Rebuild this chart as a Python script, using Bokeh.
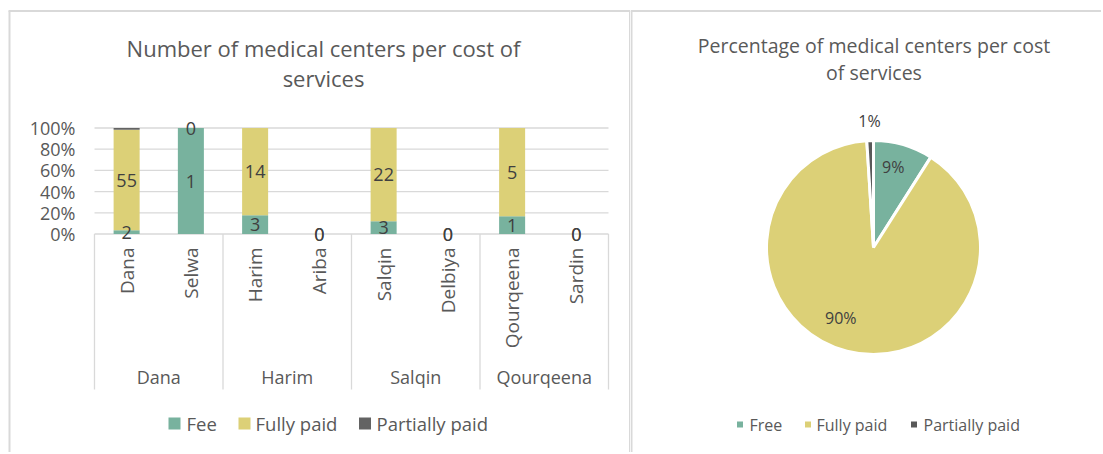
import numpy as np
from bokeh.plotting import figure
from bokeh.layouts import row
from bokeh.models import Range1d, ColumnDataSource
from bokeh.core.properties import value
from bokeh.embed import file_html
from bokeh.resources import INLINE

# ---------------- data ----------------
groups = ["Dana", "Harim", "Salqin", "Qourqeena"]
places = ["Dana", "Selwa", "Harim", "Ariba", "Salqin", "Delbiya", "Qourqeena", "Sardin"]
place_group = ["Dana", "Dana", "Harim", "Harim", "Salqin", "Salqin", "Qourqeena", "Qourqeena"]
series = ["Fee", "Fully paid", "Partially paid"]
fee = [2, 1, 3, 0, 3, 0, 1, 0]
fully_paid = [55, 0, 14, 0, 22, 0, 5, 0]
partially_paid = [1, 0, 0, 0, 0, 0, 0, 0]
y_ticks = [0.0, 0.2, 0.4, 0.6, 0.8, 1.0]
y_tick_labels = ["0%", "20%", "40%", "60%", "80%", "100%"]
bar_title = ["Number of medical centers per cost of", "services"]

pie_labels = ["Free", "Fully paid", "Partially paid"]
pie_values = [9, 90, 1]
pie_title = ["Percentage of medical centers per cost", "of services"]

# ---------------- styles ----------------
bar_colors = ["#78B29E", "#DCD077", "#636363"]
pie_colors = ["#78B29E", "#DCD077", "#595959"]
FONT = value("Open Sans")
GREY_TXT = "#595959"
DARK_TXT = "#404040"
LINE = "#D9D9D9"

# ---------------- left panel ----------------
W1, H1 = 630, 452
PX0, PY0 = 0, 0            # page offset of the figure
SLOT = 64.25               # px per category
X0PIX = 94                 # page x of category 0 edge
Y0PIX, YUNIT = 233.5, 106  # page y of 0%, px per 100%

def X(px):
    return (px - X0PIX) / SLOT

def Y(py):
    return (Y0PIX - py) / YUNIT

p1 = figure(width=W1, height=H1,
            x_range=Range1d(X(PX0), X(PX0 + W1)),
            y_range=Range1d(Y(PY0 + H1), Y(PY0)),
            output_backend="svg", toolbar_location=None,
            x_axis_location=None, y_axis_location=None,
            min_border=0, outline_line_color=None,
            background_fill_color="white", border_fill_color="white")
p1.grid.grid_line_color = None

n = len(places)
centers = [i + 0.5 for i in range(n)]
totals = [a + b + c for a, b, c in zip(fee, fully_paid, partially_paid)]
def frac(v):
    return [x / t if t > 0 else 0.0 for x, t in zip(v, totals)]
f_fee, f_full, f_part = frac(fee), frac(fully_paid), frac(partially_paid)

# panel border
p1.segment(x0=[X(9), X(8), X(629.5)], y0=[Y(PY0 + H1 + 5), Y(10.5), Y(PY0 + H1 + 5)],
           x1=[X(9), X(630), X(629.5)], y1=[Y(10.5), Y(10.5), Y(10.5)],
           line_color=LINE, line_width=2)

# gridlines
p1.segment(x0=[0] * len(y_ticks), x1=[n] * len(y_ticks), y0=y_ticks, y1=y_ticks,
           line_color=LINE, line_width=1.3)

# group separators
bounds = [0] + [i for i in range(1, n) if place_group[i] != place_group[i - 1]] + [n]
p1.segment(x0=bounds, x1=bounds, y0=[0] * len(bounds), y1=[Y(389)] * len(bounds),
           line_color=LINE, line_width=1.3)

# stacked 100% bars
src = ColumnDataSource(dict(x=centers, fee=f_fee, full=f_full, part=f_part))
p1.vbar_stack(["fee", "full", "part"], x="x", width=0.405, color=bar_colors,
              line_color=None, source=src)

# data labels (Fee and Fully paid)
lab_x, lab_y, lab_t = [], [], []
for i in range(n):
    lab_x.append(centers[i]); lab_y.append(f_fee[i] / 2); lab_t.append(str(fee[i]))
    lab_x.append(centers[i]); lab_y.append(f_fee[i] + f_full[i] / 2); lab_t.append(str(fully_paid[i]))
p1.text(x=lab_x, y=lab_y, text=lab_t, text_font=FONT, text_font_size="18px",
        text_color=DARK_TXT, text_align="center", text_baseline="middle")

# y tick labels
p1.text(x=[X(75)] * len(y_ticks), y=y_ticks, text=y_tick_labels, text_font=FONT,
        text_font_size="18px", text_color=GREY_TXT, text_align="right",
        text_baseline="middle")

# category labels (rotated)
p1.text(x=centers, y=[Y(247)] * n, text=places, angle=np.pi / 2, text_font=FONT,
        text_font_size="19px", text_color=GREY_TXT, text_align="right",
        text_baseline="middle")

# group labels
g_x = [(bounds[k] + bounds[k + 1]) / 2 for k in range(len(groups))]
p1.text(x=g_x, y=[Y(376)] * len(groups), text=groups, text_font=FONT,
        text_font_size="18px", text_color=GREY_TXT, text_align="center",
        text_baseline="middle")

# title
p1.text(x=[X(323)] * 2, y=[Y(47), Y(77)], text=bar_title, text_font=FONT,
        text_font_size="22px", text_color=GREY_TXT, text_align="center",
        text_baseline="middle")

# legend
leg_sq = [X(174), X(244), X(364.5)]
leg_tx = [X(186), X(255), X(376)]
p1.scatter(x=leg_sq, y=[Y(423)] * 3, marker="square", size=12, color=bar_colors,
           line_color=None)
p1.text(x=leg_tx, y=[Y(423)] * 3, text=series, text_font=FONT, text_font_size="18.5px",
        text_color=GREY_TXT, text_align="left", text_baseline="middle")

# ---------------- right panel ----------------
W2, H2 = 471, 452
QX0 = 630

def RX(px):
    return px - QX0

def RY(py):
    return (PY0 + H2) - py

p2 = figure(width=W2, height=H2, x_range=Range1d(0, W2), y_range=Range1d(0, H2),
            output_backend="svg", toolbar_location=None,
            x_axis_location=None, y_axis_location=None,
            min_border=0, outline_line_color=None,
            background_fill_color="white", border_fill_color="white")
p2.grid.grid_line_color = None

p2.segment(x0=[RX(631), 0], y0=[-5, RY(10.5)], x1=[RX(631), W2], y1=[RY(10.5), RY(10.5)],
           line_color=LINE, line_width=2)

tot = float(sum(pie_values))
cum = np.concatenate([[0], np.cumsum(pie_values)]) / tot
starts = [np.pi / 2 - cum[i] * 2 * np.pi for i in range(len(pie_values))]
ends = [np.pi / 2 - cum[i + 1] * 2 * np.pi for i in range(len(pie_values))]
cx, cy, R = RX(873), RY(247), 107
p2.wedge(x=cx, y=cy, radius=R, start_angle=starts, end_angle=ends, direction="clock",
         fill_color=pie_colors, line_color="white", line_width=3)

mids = [np.pi / 2 - (cum[i] + cum[i + 1]) / 2 * 2 * np.pi for i in range(len(pie_values))]
rfac = [0.76, 0.74, 1.18]
lab_dx = [-3, -13, 0]     # label nudges in px (Excel best-fit placement)
lab_dy = [2, 6, 0]
px_l = [cx + R * rf * np.cos(m) + dx for rf, m, dx in zip(rfac, mids, lab_dx)]
py_l = [cy + R * rf * np.sin(m) + dy for rf, m, dy in zip(rfac, mids, lab_dy)]
p2.text(x=px_l, y=py_l, text=[f"{v}%" for v in pie_values], text_font=FONT,
        text_font_size="16px", text_color=DARK_TXT, text_align="center",
        text_baseline="middle")

p2.text(x=[RX(873.5)] * 2, y=[RY(44.5), RY(71.5)], text=pie_title, text_font=FONT,
        text_font_size="19.5px", text_color=GREY_TXT, text_align="center",
        text_baseline="middle")

p2.scatter(x=[RX(739.5), RX(807.5), RX(913.5)], y=[RY(424)] * 3, marker="square",
           size=6, color=pie_colors, line_color=None)
p2.text(x=[RX(749), RX(816), RX(923)], y=[RY(424)] * 3, text=pie_labels,
        text_font=FONT, text_font_size="16px", text_color=GREY_TXT,
        text_align="left", text_baseline="middle")

layout = row(p1, p2, spacing=0)
open("out.html", "w").write(file_html(layout, INLINE))
